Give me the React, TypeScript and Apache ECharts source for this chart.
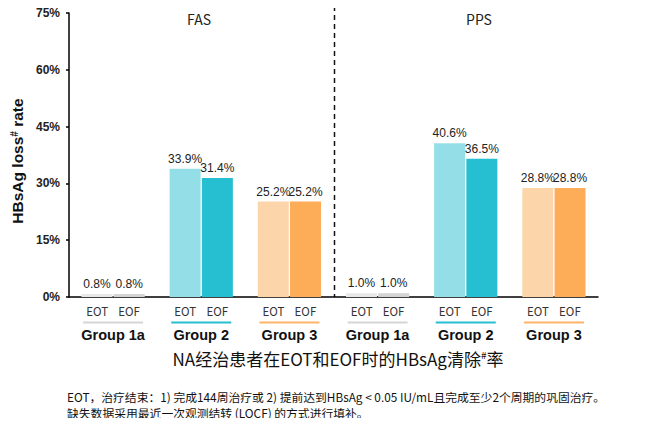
import { useEffect, useRef } from "react";
import * as echarts from "echarts";

const categories = ["Group 1a", "Group 2", "Group 3", "Group 1a", "Group 2", "Group 3"];
const eotValues = [0.8, 33.9, 25.2, 1.0, 40.6, 28.8];
const eofValues = [0.8, 31.4, 25.2, 1.0, 36.5, 28.8];
const panelTitles = ["FAS", "PPS"];

const eotColors = ["#e8e8e8", "#94dfe7", "#fdd5aa"];
const eofColors = ["#d4d4d4", "#26bfd2", "#fdac58"];
const lineColors = ["#d6d6d6", "#26bfd2", "#fdb468"];

const fontLatin = "'Liberation Sans', Arial, sans-serif";
const fontCjk = "'Noto Sans CJK SC', 'Liberation Sans', sans-serif";

export default function App() {
  const chartRef = useRef<HTMLDivElement | null>(null);

  useEffect(() => {
    if (!chartRef.current) return;
    const chart = echarts.init(chartRef.current, null, { renderer: "svg" });

    const barLabel = {
      show: true,
      position: "top" as const,
      distance: 4,
      color: "#222",
      fontSize: 12,
      fontFamily: fontLatin,
      formatter: (p: any) => `${Number(p.value).toFixed(1)}%`,
    };

    const rich: any = {
      a: { width: 32, align: "center", fontSize: 11.5, color: "#333", fontFamily: fontCjk, lineHeight: 14 },
      g: { fontSize: 14.5, fontWeight: "bold", color: "#111", fontFamily: fontLatin, lineHeight: 16 },
    };
    lineColors.forEach((c, i) => {
      rich["u" + i] = { width: 60, height: 2, backgroundColor: c, lineHeight: 9 };
    });

    chart.setOption({
      animation: false,
      title: [
        {
          text: panelTitles[0],
          left: 199,
          top: 12,
          padding: 0,
          textAlign: "center",
          textStyle: { fontSize: 14, fontWeight: "normal", color: "#222", fontFamily: fontCjk },
        },
        {
          text: panelTitles[1],
          left: 479,
          top: 12,
          padding: 0,
          textAlign: "center",
          textStyle: { fontSize: 14, fontWeight: "normal", color: "#222", fontFamily: fontCjk },
        },
        {
          text: "NA经治患者在EOT和EOF时的HBsAg清除{sup|#}率",
          left: 338,
          top: 349,
          padding: 0,
          textAlign: "center",
          textStyle: {
            fontSize: 17,
            fontWeight: "normal",
            color: "#111",
            fontFamily: fontCjk,
            rich: {
              sup: { fontSize: 10, verticalAlign: "top", padding: [0, 0, 8, 0], color: "#111", fontFamily: fontCjk },
            },
          },
        },
        {
          text:
            "EOT，治疗结束：1) 完成144周治疗或 2) 提前达到HBsAg < 0.05 IU/mL且完成至少2个周期的巩固治疗。\n缺失数据采用最近一次观测结转 (LOCF) 的方式进行填补。",
          left: 67,
          top: 388,
          padding: 0,
          textStyle: { fontSize: 11.8, lineHeight: 16, fontWeight: "normal", color: "#111", fontFamily: fontCjk },
        },
      ],
      grid: { left: 69, right: 52, top: 13, bottom: 129, containLabel: false },
      xAxis: {
        type: "category",
        data: categories,
        axisLine: { lineStyle: { color: "#000", width: 1.5 } },
        axisTick: { show: false },
        axisLabel: {
          margin: 7,
          interval: 0,
          rich,
          formatter: (v: string, i: number) => `{a|EOT}{a|EOF}\n{u${i % 3}|}\n{g|${v}}`,
        },
      },
      yAxis: {
        type: "value",
        min: 0,
        max: 75,
        interval: 15,
        name: "HBsAg loss{sup|#} rate",
        nameLocation: "middle",
        nameGap: 34,
        nameTextStyle: {
          fontSize: 15.5,
          fontWeight: "bold",
          color: "#111",
          fontFamily: fontLatin,
          padding: [0, 12, 0, 0],
          rich: {
            sup: { fontSize: 10, fontWeight: "bold", verticalAlign: "top", padding: [0, 0, 6, 0], fontFamily: fontLatin },
          },
        },
        axisLine: { show: true, lineStyle: { color: "#000", width: 1.5 } },
        axisTick: { show: true, length: 3, lineStyle: { color: "#000", width: 1.5 } },
        splitLine: { show: false },
        axisLabel: {
          margin: 9,
          fontSize: 12,
          fontWeight: "bold",
          color: "#222",
          fontFamily: fontLatin,
          formatter: (v: number) => `${v}%`,
        },
      },
      series: [
        {
          name: "EOT",
          type: "bar",
          barWidth: 31,
          barGap: "4%",
          data: eotValues.map((v, i) => ({ value: v, itemStyle: { color: eotColors[i % 3] } })),
          label: barLabel,
        },
        {
          name: "EOF",
          type: "bar",
          barWidth: 31,
          barGap: "4%",
          data: eofValues.map((v, i) => ({ value: v, itemStyle: { color: eofColors[i % 3] } })),
          label: barLabel,
        },
      ],
    });

    // dashed divider between the FAS and PPS panels, placed from the category scale
    const xa = chart.convertToPixel({ xAxisIndex: 0 }, 2) as number;
    const xb = chart.convertToPixel({ xAxisIndex: 0 }, 3) as number;
    const yTop = chart.convertToPixel({ yAxisIndex: 0 }, 75) as number;
    const yBottom = chart.convertToPixel({ yAxisIndex: 0 }, 0) as number;
    const xMid = Math.round((xa + xb) / 2) + 0.5;
    chart.setOption({
      graphic: [
        {
          type: "line",
          shape: { x1: xMid, y1: yTop - 7, x2: xMid, y2: yBottom },
          style: { stroke: "#111", lineWidth: 1.5, lineDash: [5, 4] },
        },
      ],
    });

    return () => {
      chart.dispose();
    };
  }, []);

  return <div ref={chartRef} style={{ width: 650, height: 426, margin: -8, background: "#fff" }} />;
}
